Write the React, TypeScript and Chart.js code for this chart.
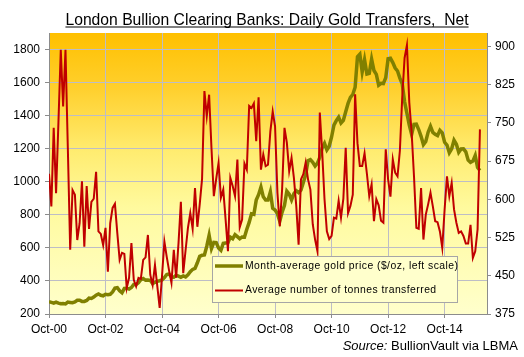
import React, { useEffect, useRef } from 'react';
import { Chart, registerables } from 'chart.js';

Chart.register(...registerables);

// Monthly series, Sep-2000 .. Dec-2015 (first point sits on the Oct-00 tick)
const goldPrice: number[] = [
  274, 270, 266, 272,
  266, 262, 263, 261, 272, 270, 268, 273, 283, 283, 276, 276,
  282, 296, 294, 302, 314, 321, 313, 310, 319, 317, 319, 333,
  357, 359, 340, 328, 355, 356, 351, 360, 379, 379, 389, 407,
  414, 405, 406, 404, 384, 392, 398, 401, 406, 420, 439, 442,
  424, 423, 434, 429, 422, 430, 424, 437, 456, 470, 476, 510,
  549, 555, 557, 610, 676, 596, 633, 632, 599, 585, 627, 629,
  631, 665, 655, 680, 668, 655, 666, 665, 713, 754, 806, 803,
  889, 922, 968, 909, 889, 889, 939, 839, 829, 807, 761, 816,
  858, 943, 925, 890, 928, 946, 934, 949, 996, 1043, 1127, 1134,
  1118, 1095, 1113, 1148, 1205, 1232, 1193, 1215, 1271, 1343, 1370, 1391,
  1356, 1372, 1424, 1474, 1510, 1528, 1572, 1756, 1772, 1665, 1739, 1652,
  1656, 1742, 1673, 1650, 1585, 1596, 1594, 1630, 1744, 1747, 1721, 1688,
  1670, 1627, 1593, 1485, 1414, 1343, 1287, 1347, 1349, 1316, 1275, 1225,
  1244, 1300, 1336, 1299, 1287, 1279, 1311, 1296, 1239, 1222, 1176, 1200,
  1251, 1227, 1178, 1198, 1199, 1181, 1131, 1117, 1125, 1159, 1086, 1068,
];

const tonnesTransferred: number[] = [
  650, 586, 740, 612, 750, 893, 782, 893, 700, 501,
  618, 609, 520, 553, 635, 507, 626, 542, 595, 601,
  654, 537, 532, 510, 544, 458, 553, 583, 591, 534,
  481, 495, 493, 426, 446, 514, 442, 429, 446, 444,
  481, 486, 530, 452, 432, 471, 429, 387, 450, 517,
  487, 460, 436, 501, 446, 514, 595, 455, 500, 544,
  573, 542, 622, 546, 590, 640, 812, 763, 805, 700,
  606, 640, 671, 603, 619, 560, 498, 642, 626, 606,
  678, 545, 560, 670, 658, 783, 779, 788, 714, 800,
  658, 688, 665, 668, 733, 772, 743, 613, 547, 620,
  740, 711, 655, 681, 642, 587, 511, 639, 649, 672,
  639, 619, 551, 521, 498, 770, 694, 600, 537, 522,
  528, 564, 562, 597, 564, 601, 701, 573, 587, 609,
  806, 710, 665, 665, 690, 650, 606, 629, 557, 600,
  588, 558, 554, 698, 639, 605, 678, 652, 645, 695,
  800, 877, 902, 790, 731, 645, 544, 542, 622, 521,
  570, 590, 613, 586, 557, 555, 537, 505, 580, 645,
  606, 632, 580, 554, 534, 537, 528, 513, 513, 550,
  485, 498, 541, 737,
];

const xTickLabels: string[] = ['Oct-00', 'Oct-02', 'Oct-04', 'Oct-06', 'Oct-08', 'Oct-10', 'Oct-12', 'Oct-14'];
const leftTicks: number[] = [200, 400, 600, 800, 1000, 1200, 1400, 1600, 1800];
const rightTicks: number[] = [375, 450, 525, 600, 675, 750, 825, 900];

const titleText = 'London Bullion Clearing Banks: Daily Gold Transfers,  Net';
const goldLabel = 'Month-average gold price ($/oz, left scale)';
const tonnesLabel = 'Average number of tonnes transferred';

const FONT = '"Liberation Sans", Arial, sans-serif';
const GOLD = '#808000';
const RED = '#C00000';
const GRID = '#BDBDC6';
const AXIS = '#8C8C8C';

const decorPlugin = {
  id: 'decor',
  beforeDraw(chart: any) {
    const { ctx, chartArea: a } = chart;
    ctx.save();
    ctx.fillStyle = '#ffffff';
    ctx.fillRect(0, 0, chart.width, chart.height);
    const g = ctx.createLinearGradient(0, a.top, 0, a.bottom);
    g.addColorStop(0, '#FFC000');
    g.addColorStop(0.2, '#FFD02E');
    g.addColorStop(0.42, '#FFEC70');
    g.addColorStop(0.62, '#FFFA9E');
    g.addColorStop(1, '#FFFFCC');
    ctx.fillStyle = g;
    ctx.fillRect(a.left, a.top, a.right - a.left, a.bottom - a.top);
    ctx.restore();
  },
  afterDatasetsDraw(chart: any) {
    const { ctx } = chart;
    ctx.save();
    // legend box
    const bx = 212, by = 256, bw = 245, bh = 46;
    ctx.fillStyle = '#FFFFCC';
    ctx.fillRect(bx, by, bw, bh);
    ctx.strokeStyle = '#A6A6A6';
    ctx.lineWidth = 1;
    ctx.strokeRect(bx + 0.5, by + 0.5, bw, bh);
    ctx.lineCap = 'butt';
    ctx.strokeStyle = GOLD;
    ctx.lineWidth = 3.5;
    ctx.beginPath();
    ctx.moveTo(215, 266);
    ctx.lineTo(243, 266);
    ctx.stroke();
    ctx.strokeStyle = RED;
    ctx.lineWidth = 2;
    ctx.beginPath();
    ctx.moveTo(215, 290.5);
    ctx.lineTo(243, 290.5);
    ctx.stroke();
    ctx.fillStyle = '#000000';
    ctx.font = `10.4px ${FONT}`;
    try { (ctx as any).letterSpacing = '0.45px'; } catch (e) {}
    ctx.textAlign = 'left';
    ctx.textBaseline = 'middle';
    ctx.fillText(goldLabel, 245, 266);
    ctx.fillText(tonnesLabel, 245, 290.5);
    ctx.restore();
  },
  afterDraw(chart: any) {
    const { ctx } = chart;
    ctx.save();
    ctx.fillStyle = '#000000';
    ctx.font = `15.7px ${FONT}`;
    ctx.textAlign = 'center';
    ctx.textBaseline = 'alphabetic';
    ctx.fillText(titleText, 267, 25);
    const w = ctx.measureText(titleText).width;
    ctx.fillRect(267 - w / 2, 26.5, w, 1);
    // source
    ctx.font = `13px ${FONT}`;
    ctx.textAlign = 'left';
    const rest = ' BullionVault via LBMA';
    const restW = ctx.measureText(rest).width;
    ctx.font = `italic 13px ${FONT}`;
    const srcW = ctx.measureText('Source:').width;
    const right = 518;
    ctx.fillText('Source:', right - restW - srcW, 350);
    ctx.font = `13px ${FONT}`;
    ctx.fillText(rest, right - restW, 350);
    ctx.restore();
  },
};

export default function App() {
  const ref = useRef<HTMLCanvasElement>(null);
  useEffect(() => {
    document.body.style.margin = '0';
    const canvas = ref.current!;
    const tickFont = { family: FONT, size: 12 };
    const chart = new Chart(canvas, {
      type: 'line',
      data: {
        datasets: [
          {
            label: goldLabel,
            data: goldPrice.map((v, i) => ({ x: i, y: v })),
            borderColor: GOLD,
            borderWidth: 3.5,
            pointRadius: 0,
            tension: 0,
            yAxisID: 'y',
            order: 1,
          },
          {
            label: tonnesLabel,
            data: tonnesTransferred.map((v, i) => ({ x: i, y: v })),
            borderColor: RED,
            borderWidth: 2,
            pointRadius: 0,
            tension: 0,
            yAxisID: 'y1',
            order: 0,
          },
        ],
      },
      options: {
        animation: false,
        responsive: false,
        devicePixelRatio: 1,
        layout: { padding: { top: 33, left: 0, right: 0, bottom: 0 } },
        plugins: {
          legend: { display: false },
          tooltip: { enabled: false },
          title: { display: false },
        },
        scales: {
          x: {
            type: 'linear',
            min: 0,
            max: 186,
            afterBuildTicks: (s: any) => {
              s.ticks = xTickLabels.map((_, i) => ({ value: i * 24 }));
            },
            afterFit: (s: any) => { s.height = 43; },
            ticks: {
              autoSkip: false,
              maxRotation: 0,
              padding: 4,
              color: '#000000',
              font: tickFont,
              callback: (v: any) => xTickLabels[Math.round(Number(v) / 24)] ?? '',
            },
            grid: { color: GRID, tickLength: 4, tickColor: AXIS, lineWidth: 1 },
            border: { color: AXIS },
          },
          y: {
            position: 'left',
            min: 200,
            max: 1900,
            afterBuildTicks: (s: any) => {
              s.ticks = leftTicks.map((v) => ({ value: v }));
            },
            afterFit: (s: any) => { s.width = 49; },
            ticks: { color: '#000000', font: tickFont, padding: 5, callback: (v: any) => String(v) },
            grid: { color: GRID, tickLength: 4, tickColor: AXIS },
            border: { color: AXIS },
          },
          y1: {
            position: 'right',
            min: 375,
            max: 926,
            afterBuildTicks: (s: any) => {
              s.ticks = rightTicks.map((v) => ({ value: v }));
            },
            afterFit: (s: any) => { s.width = 37; },
            ticks: { color: '#000000', font: tickFont, padding: 4, callback: (v: any) => String(v) },
            grid: { drawOnChartArea: false, tickLength: 4, tickColor: AXIS },
            border: { color: AXIS },
          },
        },
      } as any,
      plugins: [decorPlugin],
    });
    return () => chart.destroy();
  }, []);
  return (
    <div style={{ width: 524, height: 357 }}>
      <canvas ref={ref} width={524} height={357} style={{ display: 'block', width: 524, height: 357 }} />
    </div>
  );
}
